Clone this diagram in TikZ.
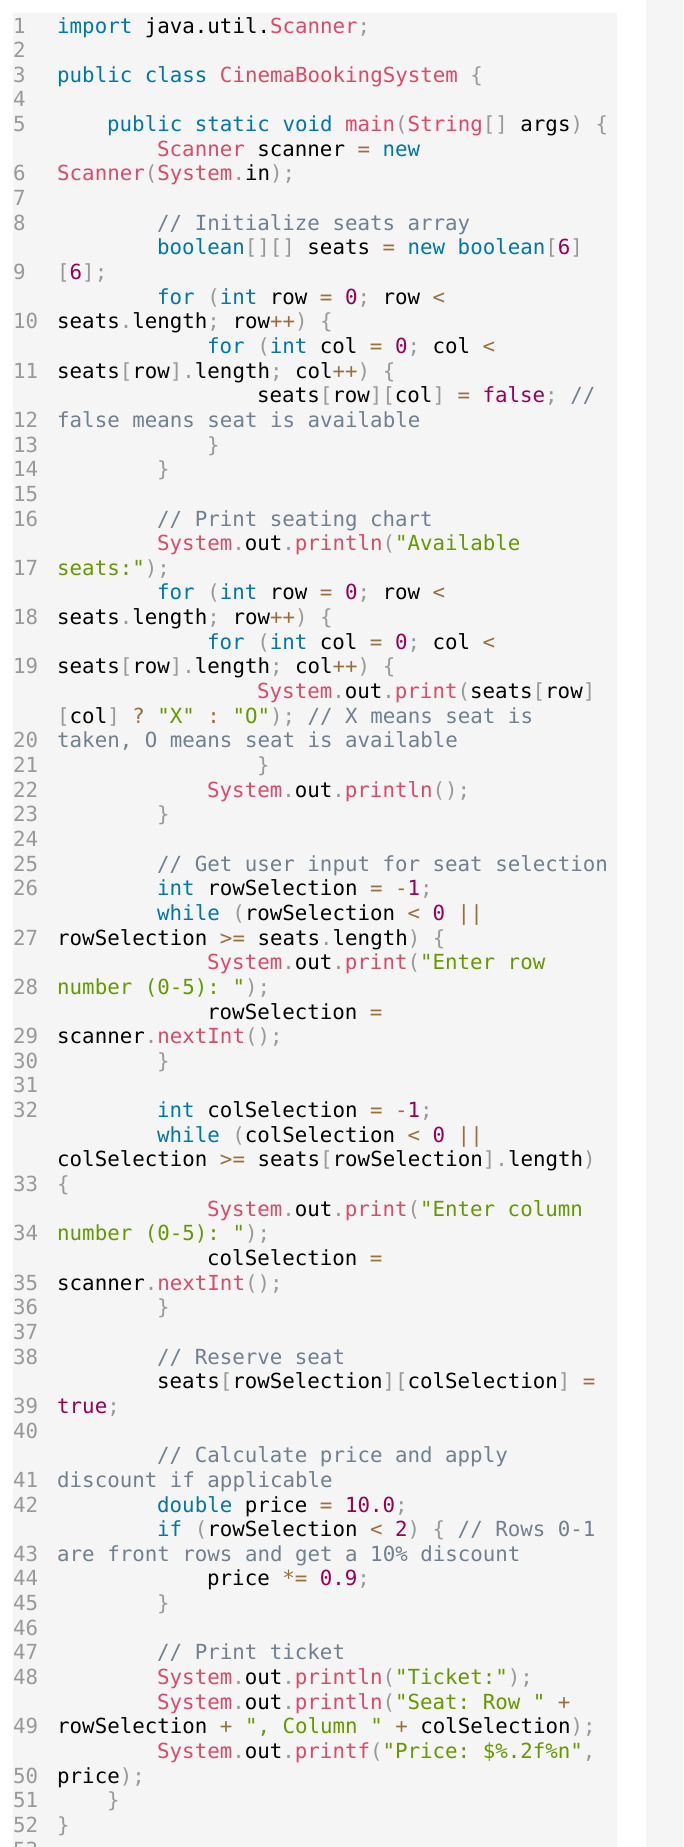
\documentclass[tikz,border=0pt]{standalone}
\usepackage{fontspec}
\setmonofont{DejaVu Sans Mono}
\definecolor{bgc}{HTML}{F5F5F5}
\definecolor{kwc}{HTML}{0077AA}
\definecolor{fnc}{HTML}{DD4A68}
\definecolor{nmc}{HTML}{990055}
\definecolor{stc}{HTML}{669900}
\definecolor{cmc}{HTML}{708090}
\definecolor{puc}{HTML}{999999}
\definecolor{opc}{HTML}{9A6E3A}
\definecolor{lnc}{HTML}{999999}
\newcommand\K[1]{\textcolor{kwc}{#1}}
\newcommand\F[1]{\textcolor{fnc}{#1}}
\newcommand\N[1]{\textcolor{nmc}{#1}}
\newcommand\Sg[1]{\textcolor{stc}{#1}}
\newcommand\Cm[1]{\textcolor{cmc}{#1}}
\newcommand\Pu[1]{\textcolor{puc}{#1}}
\newcommand\Op[1]{\textcolor{opc}{#1}}
\newcommand\crow[3]{\node[codetxt] (r#1) at ({57+#2*12.5},{33+(#1-1)*24.65}) {#3};}
\newcommand\lnum[2]{\node[numtxt] (n#2) at (13,{33+(#1-1)*24.65}) {#2};}
\begin{document}
\begin{tikzpicture}[x=1pt,y=-1pt,
  codetxt/.style={anchor=base west,inner sep=0pt,font=\ttfamily\fontsize{20.8}{24}\selectfont},
  numtxt/.style={anchor=base west,inner sep=0pt,text=lnc,font=\ttfamily\fontsize{20.8}{24}\selectfont}]
\useasboundingbox (0,0) rectangle (683,1847);
\fill[white] (0,0) rectangle (683,1847);
\fill[bgc] (13,13) rectangle (617,1847);
\fill[bgc] (646,0) rectangle (683,1847);
\lnum{1}{1}\crow{1}{0}{\K{import} java.util.\F{Scanner}\Pu{;}}
\lnum{2}{2}
\lnum{3}{3}\crow{3}{0}{\K{public} \K{class} \F{CinemaBookingSystem} \Pu{\{}}
\lnum{4}{4}
\lnum{5}{5}\crow{5}{4}{\K{public} \K{static} \K{void} \F{main}\Pu{(}\F{String}\Pu{[]} args\Pu{)} \Pu{\{}}
\crow{6}{8}{\F{Scanner} scanner \Op{=} \K{new}}
\lnum{7}{6}\crow{7}{0}{\F{Scanner}\Pu{(}\F{System}\Pu{.}in\Pu{);}}
\lnum{8}{7}
\lnum{9}{8}\crow{9}{8}{\Cm{// Initialize seats array}}
\crow{10}{8}{\K{boolean}\Pu{[][]} seats \Op{=} \K{new} \K{boolean}\Pu{[}\N{6}\Pu{]}}
\lnum{11}{9}\crow{11}{0}{\Pu{[}\N{6}\Pu{];}}
\crow{12}{8}{\K{for} \Pu{(}\K{int} row \Op{=} \N{0}\Pu{;} row \Op{<}}
\lnum{13}{10}\crow{13}{0}{seats\Pu{.}length\Pu{;} row\Op{++}\Pu{)} \Pu{\{}}
\crow{14}{12}{\K{for} \Pu{(}\K{int} col \Op{=} \N{0}\Pu{;} col \Op{<}}
\lnum{15}{11}\crow{15}{0}{seats\Pu{[}row\Pu{].}length\Pu{;} col\Op{++}\Pu{)} \Pu{\{}}
\crow{16}{16}{seats\Pu{[}row\Pu{][}col\Pu{]} \Op{=} \N{false}\Pu{;} \Cm{//}}
\lnum{17}{12}\crow{17}{0}{\Cm{false means seat is available}}
\lnum{18}{13}\crow{18}{12}{\Pu{\}}}
\lnum{19}{14}\crow{19}{8}{\Pu{\}}}
\lnum{20}{15}
\lnum{21}{16}\crow{21}{8}{\Cm{// Print seating chart}}
\crow{22}{8}{\F{System}\Pu{.}out\Pu{.}\F{println}\Pu{(}\Sg{"Available}}
\lnum{23}{17}\crow{23}{0}{\Sg{seats:"}\Pu{);}}
\crow{24}{8}{\K{for} \Pu{(}\K{int} row \Op{=} \N{0}\Pu{;} row \Op{<}}
\lnum{25}{18}\crow{25}{0}{seats\Pu{.}length\Pu{;} row\Op{++}\Pu{)} \Pu{\{}}
\crow{26}{12}{\K{for} \Pu{(}\K{int} col \Op{=} \N{0}\Pu{;} col \Op{<}}
\lnum{27}{19}\crow{27}{0}{seats\Pu{[}row\Pu{].}length\Pu{;} col\Op{++}\Pu{)} \Pu{\{}}
\crow{28}{16}{\F{System}\Pu{.}out\Pu{.}\F{print}\Pu{(}seats\Pu{[}row\Pu{]}}
\crow{29}{0}{\Pu{[}col\Pu{]} \Op{?} \Sg{"X"} \Op{:} \Sg{"O"}\Pu{);} \Cm{// X means seat is}}
\lnum{30}{20}\crow{30}{0}{\Cm{taken, O means seat is available}}
\lnum{31}{21}\crow{31}{16}{\Pu{\}}}
\lnum{32}{22}\crow{32}{12}{\F{System}\Pu{.}out\Pu{.}\F{println}\Pu{();}}
\lnum{33}{23}\crow{33}{8}{\Pu{\}}}
\lnum{34}{24}
\lnum{35}{25}\crow{35}{8}{\Cm{// Get user input for seat selection}}
\lnum{36}{26}\crow{36}{8}{\K{int} rowSelection \Op{=} \Op{-}\N{1}\Pu{;}}
\crow{37}{8}{\K{while} \Pu{(}rowSelection \Op{<} \N{0} \Op{||}}
\lnum{38}{27}\crow{38}{0}{rowSelection \Op{>=} seats\Pu{.}length\Pu{)} \Pu{\{}}
\crow{39}{12}{\F{System}\Pu{.}out\Pu{.}\F{print}\Pu{(}\Sg{"Enter row}}
\lnum{40}{28}\crow{40}{0}{\Sg{number (0-5): "}\Pu{);}}
\crow{41}{12}{rowSelection \Op{=}}
\lnum{42}{29}\crow{42}{0}{scanner\Pu{.}\F{nextInt}\Pu{();}}
\lnum{43}{30}\crow{43}{8}{\Pu{\}}}
\lnum{44}{31}
\lnum{45}{32}\crow{45}{8}{\K{int} colSelection \Op{=} \Op{-}\N{1}\Pu{;}}
\crow{46}{8}{\K{while} \Pu{(}colSelection \Op{<} \N{0} \Op{||}}
\crow{47}{0}{colSelection \Op{>=} seats\Pu{[}rowSelection\Pu{].}length\Pu{)}}
\lnum{48}{33}\crow{48}{0}{\Pu{\{}}
\crow{49}{12}{\F{System}\Pu{.}out\Pu{.}\F{print}\Pu{(}\Sg{"Enter column}}
\lnum{50}{34}\crow{50}{0}{\Sg{number (0-5): "}\Pu{);}}
\crow{51}{12}{colSelection \Op{=}}
\lnum{52}{35}\crow{52}{0}{scanner\Pu{.}\F{nextInt}\Pu{();}}
\lnum{53}{36}\crow{53}{8}{\Pu{\}}}
\lnum{54}{37}
\lnum{55}{38}\crow{55}{8}{\Cm{// Reserve seat}}
\crow{56}{8}{seats\Pu{[}rowSelection\Pu{][}colSelection\Pu{]} \Op{=}}
\lnum{57}{39}\crow{57}{0}{\N{true}\Pu{;}}
\lnum{58}{40}
\crow{59}{8}{\Cm{// Calculate price and apply}}
\lnum{60}{41}\crow{60}{0}{\Cm{discount if applicable}}
\lnum{61}{42}\crow{61}{8}{\K{double} price \Op{=} \N{10.0}\Pu{;}}
\crow{62}{8}{\K{if} \Pu{(}rowSelection \Op{<} \N{2}\Pu{)} \Pu{\{} \Cm{// Rows 0-1}}
\lnum{63}{43}\crow{63}{0}{\Cm{are front rows and get a 10\% discount}}
\lnum{64}{44}\crow{64}{12}{price \Op{*=} \N{0.9}\Pu{;}}
\lnum{65}{45}\crow{65}{8}{\Pu{\}}}
\lnum{66}{46}
\lnum{67}{47}\crow{67}{8}{\Cm{// Print ticket}}
\lnum{68}{48}\crow{68}{8}{\F{System}\Pu{.}out\Pu{.}\F{println}\Pu{(}\Sg{"Ticket:"}\Pu{);}}
\crow{69}{8}{\F{System}\Pu{.}out\Pu{.}\F{println}\Pu{(}\Sg{"Seat: Row "} \Op{+}}
\lnum{70}{49}\crow{70}{0}{rowSelection \Op{+} \Sg{", Column "} \Op{+} colSelection\Pu{);}}
\crow{71}{8}{\F{System}\Pu{.}out\Pu{.}\F{printf}\Pu{(}\Sg{"Price: \$\%.2f\%n"}\Pu{,}}
\lnum{72}{50}\crow{72}{0}{price\Pu{);}}
\lnum{73}{51}\crow{73}{4}{\Pu{\}}}
\lnum{74}{52}\crow{74}{0}{\Pu{\}}}
\lnum{75}{53}
\end{tikzpicture}
\end{document}
